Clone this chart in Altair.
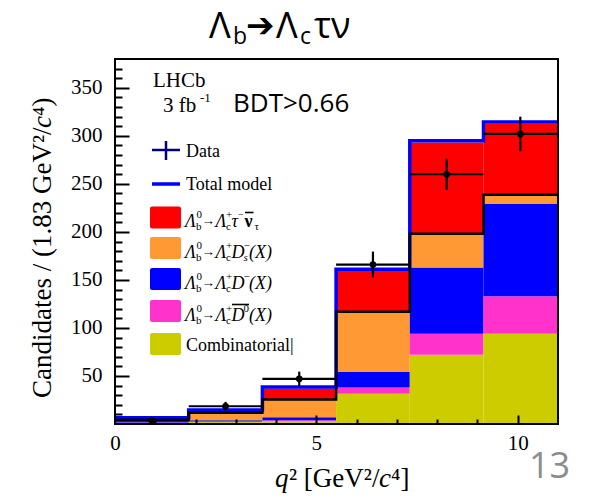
import altair as alt
import pandas as pd

# ---------------- data ----------------
edges = [0.0, 1.83, 3.66, 5.49, 7.32, 9.15, 10.98]
comp_names = ["Combinatorial", "D0bar", "Dminus", "Ds", "Signal"]
comb = [1.0, 2.0, 3.0, 31.6, 72.0, 94.0]
d0bar = [0.5, 0.5, 1.0, 6.3, 22.0, 39.0]
dminus = [1.0, 1.5, 3.0, 16.3, 69.0, 96.0]
ds = [2.0, 7.8, 18.5, 62.6, 35.0, 9.6]
signal = [1.0, 1.7, 11.5, 42.7, 95.0, 74.0]
total_model = [6.5, 14.5, 38.5, 161.0, 295.0, 314.5]
background_sum = [4.5, 11.8, 25.5, 116.8, 198.0, 238.6]
data_centers = [0.915, 2.745, 4.575, 6.405, 8.235, 10.065]
data_vals = [3.5, 18.5, 47.0, 166.0, 260.0, 302.0]
data_errs = [2.0, 4.5, 7.5, 13.5, 16.5, 18.0]
comp_colors = ["#cccc00", "#ff33cc", "#0000ff", "#ff9933", "#ff0000"]
x_label_ticks = [0, 5, 10]
x_major_ticks = [5, 10]
x_minor_ticks = [1, 2, 3, 4, 6, 7, 8, 9]
y_label_ticks = [50, 100, 150, 200, 250, 300, 350]
y_minor_ticks = [v for v in range(10, 380, 10) if v % 50 != 0]

# ---------------- tables ----------------
rows = []
for i in range(6):
    for k, series in enumerate([comb, d0bar, dminus, ds, signal]):
        rows.append({"lo": edges[i], "hi": edges[i + 1], "val": series[i],
                     "comp": comp_names[k], "order": k})
bars_df = pd.DataFrame(rows)
step_df = pd.DataFrame({"x": edges,
                        "total": total_model + [total_model[-1]],
                        "bg": background_sum + [background_sum[-1]]})
data_df = pd.DataFrame({"c": data_centers, "v": data_vals, "e": data_errs,
                        "lo": edges[:-1], "hi": edges[1:]})
one = pd.DataFrame({"k": [0]})

W, H = 443, 365
PL, PT = 115, 59
SERIF = "Liberation Serif"
SANS = "Open Sans"

xs = alt.Scale(domain=[0, 11], nice=False, zero=False)
ys = alt.Scale(domain=[0, 380], nice=False, zero=False)

x_lab_axis = alt.Axis(orient="bottom", values=x_label_ticks, ticks=False, domain=False, grid=False,
                      labelFont=SERIF, labelFontSize=21, labelColor="black", labelPadding=8,
                      title=None, labelFlush=False)
y_lab_axis = alt.Axis(orient="left", values=y_label_ticks, ticks=False, domain=False, grid=False,
                      labelFont=SERIF, labelFontSize=21, labelColor="black", labelPadding=13,
                      title=None)
x_maj_axis = alt.Axis(orient="bottom", values=x_major_ticks, labels=False, domain=False, grid=False,
                      tickSize=9, offset=-9, tickColor="black", tickWidth=2, title=None, zindex=2)
x_min_axis = alt.Axis(orient="bottom", values=x_minor_ticks, labels=False, domain=False, grid=False,
                      tickSize=5, offset=-5, tickColor="black", tickWidth=2, title=None, zindex=2)
y_maj_axis = alt.Axis(orient="left", values=y_label_ticks, labels=False, domain=False, grid=False,
                      tickSize=14, offset=-14, tickColor="black", tickWidth=2, title=None, zindex=2)
y_min_axis = alt.Axis(orient="left", values=y_minor_ticks, labels=False, domain=False, grid=False,
                      tickSize=7, offset=-7, tickColor="black", tickWidth=2, title=None, zindex=2)

bars = alt.Chart(bars_df).transform_stack(
    stack="val", groupby=["lo"], as_=["y0", "y1"],
    sort=[alt.SortField("order", order="ascending")]
).mark_bar(strokeWidth=0).encode(
    x=alt.X("lo:Q", scale=xs, axis=x_lab_axis),
    x2="hi:Q",
    y=alt.Y("y0:Q", scale=ys, axis=y_lab_axis),
    y2="y1:Q",
    color=alt.Color("comp:N", scale=alt.Scale(domain=comp_names, range=comp_colors), legend=None),
)

total_line = alt.Chart(step_df).mark_line(interpolate="step-after", color="#0000ff", strokeWidth=3.5).encode(
    x=alt.X("x:Q", scale=xs, axis=x_maj_axis),
    y=alt.Y("total:Q", scale=ys, axis=y_maj_axis),
)
bg_line = alt.Chart(step_df).mark_line(interpolate="step-after", color="black", strokeWidth=2.5).encode(
    x=alt.X("x:Q", scale=xs, axis=x_min_axis),
    y=alt.Y("bg:Q", scale=ys, axis=y_min_axis),
)

xerr = alt.Chart(data_df).mark_rule(color="black", strokeWidth=2.2).encode(
    x=alt.X("lo:Q", scale=xs, axis=None), x2="hi:Q",
    y=alt.Y("v:Q", scale=ys, axis=None),
)
yerr = alt.Chart(data_df).transform_calculate(
    ylo="datum.v - datum.e", yhi="datum.v + datum.e"
).mark_rule(color="black", strokeWidth=2.2).encode(
    x=alt.X("c:Q", scale=xs, axis=None),
    y=alt.Y("ylo:Q", scale=ys, axis=None), y2="yhi:Q",
)
pts = alt.Chart(data_df).mark_point(filled=True, color="black", size=45, opacity=1).encode(
    x=alt.X("c:Q", scale=xs, axis=None),
    y=alt.Y("v:Q", scale=ys, axis=None),
)


def txt(s, x, y, size, font=SERIF, style="normal", weight="normal", color="black", angle=0, align="left"):
    return alt.Chart(one).mark_text(
        text=s, font=font, fontSize=size, fontStyle=style, fontWeight=weight, color=color,
        align=align, baseline="alphabetic", angle=angle
    ).encode(x=alt.value(x - PL), y=alt.value(y - PT))


def hline(x1, x2, y, color="black", width=1.3):
    return alt.Chart(one).mark_rule(color=color, strokeWidth=width).encode(
        x=alt.value(x1 - PL), x2=alt.value(x2 - PL), y=alt.value(y - PT))


def vline(x, y1, y2, color="black", width=1.3):
    return alt.Chart(one).mark_rule(color=color, strokeWidth=width).encode(
        x=alt.value(x - PL), y=alt.value(y1 - PT), y2=alt.value(y2 - PT))


def swatch(yc, color):
    return alt.Chart(one).mark_rect(color=color, cornerRadius=2).encode(
        x=alt.value(150 - PL), x2=alt.value(181 - PL),
        y=alt.value(yc - 11 - PT), y2=alt.value(yc + 11 - PT))


def prefix(yb):
    return [
        txt("Λ", 185, yb, 18, style="italic"),
        txt("0", 196.5, yb - 9, 11),
        txt("b", 196, yb + 3, 11),
        txt("→", 201.5, yb - 1.5, 13.5),
        txt("Λ", 215.5, yb, 18, style="italic"),
        txt("+", 226, yb - 9, 11),
        txt("c", 226, yb + 3, 11),
    ]


legend = []
# Data
legend += [hline(152, 180, 150, color="#00007f", width=2.5), vline(166, 141, 160, color="#00007f", width=2.5),
           txt("Data", 186, 157, 18)]
# Total model
legend += [hline(152, 180, 184, color="#0000ff", width=3.5), txt("Total model", 186, 190, 18)]
# Signal
r = 226.5
legend += [swatch(217.5, "#ff0000")] + prefix(r) + [
    txt("τ", 231.5, r, 18, style="italic"), txt("−", 238, r - 9, 10),
    txt("ν", 244.5, r, 18, weight="bold"), hline(245, 253.5, r - 14, width=1.6),
    txt("τ", 254.5, r + 3, 11),
]
# Ds
r = 257.5
legend += [swatch(248, "#ff9933")] + prefix(r) + [
    txt("D", 231.5, r, 18, style="italic"), txt("−", 243.5, r - 9, 11),
    txt("s", 243.5, r + 3, 11, style="italic"), txt("(X)", 249, r, 18, style="italic"),
]
# D-
r = 288.5
legend += [swatch(279, "#0000ff")] + prefix(r) + [
    txt("D", 231.5, r, 18, style="italic"), txt("−", 243.5, r - 9, 11),
    txt("(X)", 249, r, 18, style="italic"),
]
# D0bar
r = 320.5
legend += [swatch(311, "#ff33cc")] + prefix(r) + [
    txt("D", 231.5, r, 18, style="italic"), txt("0", 243.5, r - 9, 11),
    hline(232, 249, r - 16, width=1.6),
    txt("(X)", 249, r, 18, style="italic"),
]
# Combinatorial
legend += [swatch(344, "#cccc00"), txt("Combinatorial|", 186, 351, 18)]

annots = [
    txt("LHCb", 153, 87, 21),
    txt("3 fb", 163, 112, 21),
    txt("-1", 200, 102, 13),
    txt("BDT>0.66", 233, 112, 26, font=SANS),
    # title
    txt("Λ", 209, 38, 36, font=SANS),
    txt("b", 233, 44, 23, font=SANS),
    txt("➔", 246, 37, 34, font="DejaVu Sans"),
    txt("Λ", 276, 38, 36, font=SANS),
    txt("c", 300, 44, 23, font=SANS),
    txt("τν", 314, 38, 36, font=SANS),
    # page number
    txt("13", 529, 478, 36, font=SANS, color="#8c8c8c"),
    # x title
    txt("q", 275, 487, 27, style="italic"),
    txt("² [GeV²/", 289, 487, 27),
    txt("c", 379, 487, 27, style="italic"),
    txt("⁴]", 391, 487, 27),
    # y title (rotated)
    txt("Candidates / (1.83 GeV²/", 51, 398, 27, angle=270),
    txt("c", 51, 128, 27, style="italic", angle=270),
    txt("⁴)", 51, 116, 27, angle=270),
]

frame = alt.Chart(one).mark_rect(fillOpacity=0, stroke="black", strokeWidth=2).encode(
    x=alt.value(0), x2=alt.value(W), y=alt.value(0), y2=alt.value(H))

chart = alt.layer(
    bars, total_line, bg_line, xerr, yerr, pts, *legend, *annots, frame
).resolve_axis(x="independent", y="independent").properties(
    width=W, height=H,
    padding={"left": PL, "top": PT, "right": 595 - PL - W, "bottom": 499 - PT - H},
    autosize=alt.AutoSizeParams(type="none"),
    background="white",
).configure_view(stroke=None)

chart.save("out.html", embed_options={"renderer": "svg", "actions": False})
